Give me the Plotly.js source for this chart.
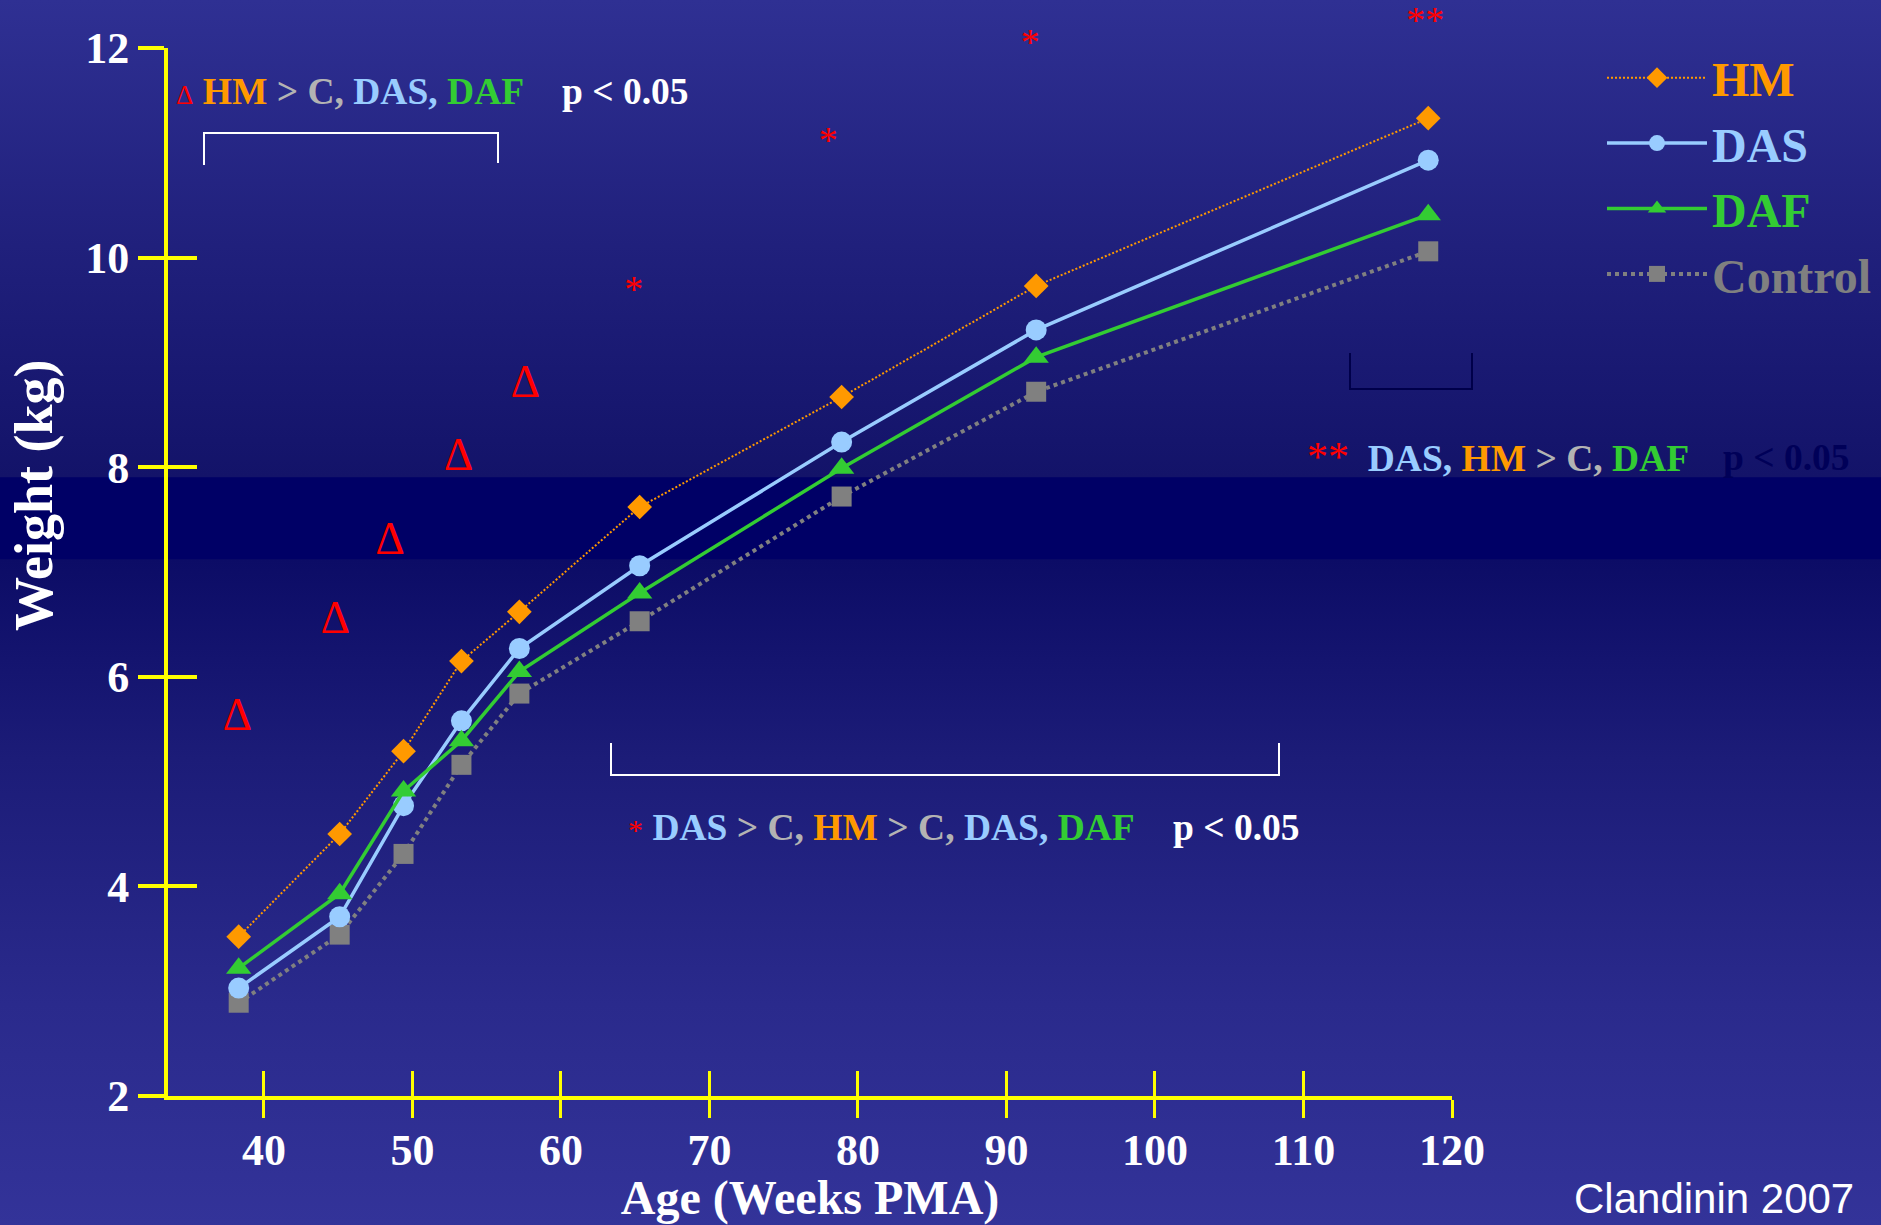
<!DOCTYPE html>
<html>
<head>
<meta charset="utf-8">
<script src="https://cdn.plot.ly/plotly-3.0.1.min.js"></script>
<style>
  html, body { margin:0; padding:0; }
  body {
    width:1881px; height:1225px; overflow:hidden;
    background: linear-gradient(to bottom,
      #2F3093 0%, #20207C 20%, #131369 38.9%,
      #000066 39%, #000066 45.6%,
      #0C0C66 45.7%, #1C1C78 62%, #2A2A8C 82%, #333399 100%);
  }
  #chart { width:1881px; height:1225px; }
</style>
</head>
<body>
<div id="chart"></div>
<script>
// ---------------- data ----------------
const ages    = [38.3, 45.1, 49.4, 53.3, 57.2, 65.3, 78.9, 92.0, 118.4];
const hm      = [3.52, 4.50, 5.29, 6.15, 6.62, 7.62, 8.67, 9.73, 11.33];
const das     = [3.03, 3.71, 4.77, 5.58, 6.27, 7.06, 8.24, 9.31, 10.93];
const daf     = [3.22, 3.93, 4.91, 5.39, 6.05, 6.80, 7.99, 9.05, 10.41];
const control = [2.89, 3.54, 4.31, 5.16, 5.84, 6.53, 7.72, 8.72, 10.06];

const seriesNames = ["HM", "DAS", "DAF", "Control"];

const xTicks = [40, 50, 60, 70, 80, 90, 100, 110, 120];
const yTicks = [2, 4, 6, 8, 10, 12];

// significance marks (Δ: HM > C, DAS, DAF ; * and ** markers)
const deltaX = [38.2, 44.8, 48.5, 53.1, 57.6];
const deltaY = [5.60, 6.53, 7.28, 8.08, 8.78];
const starX  = [64.9, 78.0, 91.6, 118.2];
const starY  = [9.67, 11.09, 12.02, 12.23];
const starText = ["*", "*", "*", "**"];

// ---------------- styling ----------------
const COL = { hm:'#FF9900', das:'#99CCFF', daf:'#33CC33', ctrl:'#808080', gray:'#B3B3B3', red:'#FF0000', yellow:'#FFFF00' };
const SERIF = 'Liberation Serif, Times New Roman, serif';

const W = 1881, H = 1225;
const M = { l:168, r:429, t:0, b:129 };
const PLOT_W = W - M.l - M.r;          // 1284
const PLOT_H = H - M.t - M.b;          // 1096
const AXIS_TOP = 48;                   // pixel where the y axis (value 12) ends
// convert reference pixel positions to paper coordinates (for decorations)
const px = x => (x - M.l) / PLOT_W;
const py = y => (H - M.b - y) / PLOT_H;
const sp = (c, t, extra) => `<span style="color:${c}${extra ? ';' + extra : ''}">${t}</span>`;

const xRange = [33.54, 120];
const yRange = [2, 12];
const yDomainTop = py(AXIS_TOP);
// an extended y axis with identical scale, reaching the top of the figure (for marks above 12)
const yRangeExt = [yRange[0], yRange[0] + (yRange[1] - yRange[0]) / yDomainTop];

function legendName(i, color) { return sp(color, seriesNames[i]); }

const traces = [
  { x: ages, y: control, name: legendName(3, COL.ctrl), legendrank: 4, mode: 'lines+markers',
    line: { color: COL.ctrl, width: 4, dash: 'dot' },
    marker: { symbol: 'square', size: 20, color: COL.ctrl }, cliponaxis: false },
  { x: ages, y: das, name: legendName(1, COL.das), legendrank: 2, mode: 'lines+markers',
    line: { color: COL.das, width: 3.5 },
    marker: { symbol: 'circle', size: 21, color: COL.das }, cliponaxis: false },
  { x: ages, y: daf, name: legendName(2, COL.daf), legendrank: 3, mode: 'lines+markers',
    line: { color: COL.daf, width: 3.5 },
    marker: { symbol: 'triangle-up', size: 22, color: COL.daf }, cliponaxis: false },
  { x: ages, y: hm, name: legendName(0, COL.hm), legendrank: 1, mode: 'lines+markers',
    line: { color: COL.hm, width: 2, dash: '2px,2px' },
    marker: { symbol: 'diamond', size: 19, color: COL.hm }, cliponaxis: false },
  { x: deltaX, y: deltaY, xaxis: 'x', yaxis: 'y3', mode: 'text', text: deltaX.map(() => 'Δ'), showlegend: false,
    textfont: { family: SERIF, size: 46, color: COL.red }, cliponaxis: false, hoverinfo: 'skip' },
  { x: starX, y: starY, xaxis: 'x', yaxis: 'y3', mode: 'text', text: starText, showlegend: false,
    textfont: { family: SERIF, size: 38, color: COL.red }, cliponaxis: false, hoverinfo: 'skip' },
  // empty trace so the overlay axes (crossing tick marks) exist
  { x: [], y: [], xaxis: 'x2', yaxis: 'y2', showlegend: false, hoverinfo: 'skip' }
];

const tickFont = { family: SERIF, size: 44, color: '#FFFFFF', weight: 'bold' };
const annFont  = { family: SERIF, size: 37.5, color: '#FFFFFF', weight: 'bold' };

const bracketLine = { color: '#FFFFFF', width: 2 };
const shapes = [
  // top-left bracket (opening downward)
  { type: 'path', xref: 'paper', yref: 'paper', line: bracketLine,
    path: `M${px(204)},${py(165)} L${px(204)},${py(133)} L${px(498)},${py(133)} L${px(498)},${py(163)}` },
  // middle bracket (opening upward)
  { type: 'path', xref: 'paper', yref: 'paper', line: bracketLine,
    path: `M${px(611)},${py(743)} L${px(611)},${py(775)} L${px(1279)},${py(775)} L${px(1279)},${py(743)}` },
  // right bracket (dark, nearly invisible)
  { type: 'path', xref: 'paper', yref: 'paper', line: { color: '#00004A', width: 2 },
    path: `M${px(1350)},${py(353)} L${px(1350)},${py(389)} L${px(1472)},${py(389)} L${px(1472)},${py(353)}` }
];

const NB = '\u00a0';
const annotations = [
  { xref: 'paper', yref: 'paper', x: px(174), y: py(92), xanchor: 'left', yanchor: 'middle', showarrow: false,
    font: annFont,
    text: `${sp(COL.red, 'Δ', 'font-size:27px;font-weight:normal')} ${sp(COL.hm, 'HM')} ${sp(COL.gray, '&gt; C,')} ${sp(COL.das, 'DAS,')} ${sp(COL.daf, 'DAF')}` },
  { xref: 'paper', yref: 'paper', x: px(560), y: py(92), xanchor: 'left', yanchor: 'middle', showarrow: false,
    font: annFont, text: 'p &lt; 0.05' },
  { xref: 'paper', yref: 'paper', x: px(626), y: py(827), xanchor: 'left', yanchor: 'middle', showarrow: false,
    font: annFont,
    text: `${sp(COL.red, '*', 'font-size:30px;font-weight:normal')} ${sp(COL.das, 'DAS')} ${sp(COL.gray, '&gt; C,')} ${sp(COL.hm, 'HM')} ${sp(COL.gray, '&gt; C,')} ${sp(COL.das, 'DAS,')} ${sp(COL.daf, 'DAF')}` },
  { xref: 'paper', yref: 'paper', x: px(1171), y: py(827), xanchor: 'left', yanchor: 'middle', showarrow: false,
    font: annFont, text: 'p &lt; 0.05' },
  { xref: 'paper', yref: 'paper', x: px(1305), y: py(457), xanchor: 'left', yanchor: 'middle', showarrow: false,
    font: annFont,
    text: `${sp(COL.red, '**', 'font-size:42px;font-weight:normal')}${NB} ${sp(COL.das, 'DAS,')} ${sp(COL.hm, 'HM')} ${sp(COL.gray, '&gt; C,')} ${sp(COL.daf, 'DAF')}` },
  { xref: 'paper', yref: 'paper', x: px(1721), y: py(457), xanchor: 'left', yanchor: 'middle', showarrow: false,
    font: Object.assign({}, annFont, { color: '#000058' }), text: 'p &lt; 0.05' },
  // y axis title (placed as in the reference, above the axis centre)
  { xref: 'paper', yref: 'paper', x: px(34), y: py(495), xanchor: 'center', yanchor: 'middle', showarrow: false,
    textangle: -90, font: { family: SERIF, size: 54, color: '#FFFFFF', weight: 'bold' }, text: 'Weight (kg)' },
  { xref: 'paper', yref: 'paper', x: px(1856), y: py(1224), xanchor: 'right', yanchor: 'bottom', showarrow: false,
    font: { family: 'Liberation Sans, Arial, sans-serif', size: 42, color: '#FFFFFF' },
    text: 'Clandinin 2007' }
];

const layout = {
  width: W, height: H,
  margin: M,
  paper_bgcolor: 'rgba(0,0,0,0)',
  plot_bgcolor: 'rgba(0,0,0,0)',
  showlegend: true,
  legend: {
    x: px(1602), y: py(40), xanchor: 'left', yanchor: 'top',
    bgcolor: 'rgba(0,0,0,0)', borderwidth: 0,
    font: { family: SERIF, size: 48, weight: 'bold', color: '#FFFFFF' },
    itemwidth: 100
  },
  xaxis: {
    range: xRange, tickvals: xTicks, ticktext: xTicks.map(String),
    ticks: 'outside', ticklen: 18, tickwidth: 3, tickcolor: COL.yellow,
    showline: true, linecolor: COL.yellow, linewidth: 4,
    showgrid: false, zeroline: false, tickfont: tickFont, ticklabelstandoff: -6,
    title: { text: 'Age (Weeks PMA)', font: { family: SERIF, size: 48, color: '#FFFFFF', weight: 'bold' }, standoff: 26 },
    automargin: false
  },
  yaxis: {
    domain: [0, yDomainTop],
    range: yRange, tickvals: yTicks, ticktext: yTicks.map(String),
    ticks: 'outside', ticklen: 26, tickwidth: 4, tickcolor: COL.yellow,
    showline: true, linecolor: COL.yellow, linewidth: 4,
    showgrid: false, zeroline: false, tickfont: tickFont, ticklabelstandoff: 0,
    automargin: false
  },
  xaxis2: {
    overlaying: 'x', anchor: 'y2', range: xRange, tickvals: xTicks,
    ticks: 'inside', ticklen: 25, tickwidth: 3, tickcolor: COL.yellow,
    showticklabels: false, showline: false, showgrid: false, zeroline: false
  },
  yaxis2: {
    overlaying: 'y', anchor: 'x2', side: 'left', range: yRange, tickvals: yTicks,
    ticks: 'inside', ticklen: 29, tickwidth: 4, tickcolor: COL.yellow,
    showticklabels: false, showline: false, showgrid: false, zeroline: false
  },
  yaxis3: {
    anchor: 'x', domain: [0, 1], range: yRangeExt, visible: false,
    showticklabels: false, showline: false, showgrid: false, zeroline: false, ticks: ''
  },
  shapes: shapes,
  annotations: annotations
};

Plotly.newPlot('chart', traces, layout, { displayModeBar: false, staticPlot: true });
</script>
</body>
</html>
